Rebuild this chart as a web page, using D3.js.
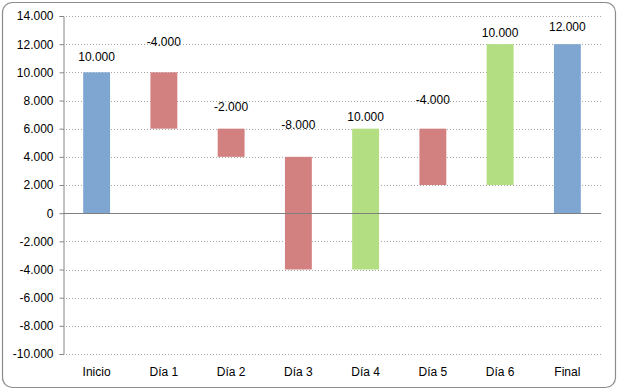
<!DOCTYPE html>
<html><head><meta charset="utf-8">
<script src="https://cdn.jsdelivr.net/npm/d3@7"></script>
<style>body{margin:0;background:#fff;}svg{display:block;}</style>
</head><body>
<svg id="c" width="619" height="391"></svg>
<script>
const categories = ["Inicio","Día 1","Día 2","Día 3","Día 4","Día 5","Día 6","Final"];
const changes = [10000,-4000,-2000,-8000,10000,-4000,10000,12000];
const kinds = ["total","delta","delta","delta","delta","delta","delta","total"];
const yTicks = [-10000,-8000,-6000,-4000,-2000,0,2000,4000,6000,8000,10000,12000,14000];

// layout: label distance above bar top (px)
const labelGap = [15,30,22,32,12,29,11,17];

const colors = {total:"#7fa6d1", up:"#b3de82", down:"#d38080"};
const loc = d3.formatLocale({decimal:",", thousands:".", grouping:[3], currency:["","€"], minus:"-"});
const fmt = loc.format(",");

const svg = d3.select("#c");
const font = "'Liberation Sans', Arial, sans-serif";

// frame
svg.append("rect").attr("x",2.5).attr("y",2.5).attr("width",613).attr("height",385)
  .attr("rx",10).attr("fill","#fff").attr("stroke","#8c8c8c").attr("stroke-width",1.2);

const pL=63, pR=601, pT=16, pB=354;
const x = d3.scaleBand().domain(categories).range([pL,pR]).paddingInner(0.6).paddingOuter(0.3);
const y = d3.scaleLinear().domain([-10000,14000]).range([pB,pT]);

let run = 0;
const bars = categories.map((c,i)=>{
  let y0,y1,col;
  if(kinds[i]==="total"){ y0=0; y1=changes[i]; run=changes[i]; col=colors.total; }
  else { y0=run; y1=run+changes[i]; run=y1; col=changes[i]>=0?colors.up:colors.down; }
  return {c, v:changes[i], lo:Math.min(y0,y1), hi:Math.max(y0,y1), col, i};
});

// gridlines
svg.append("g").selectAll("line").data(yTicks.filter(t=>t!==0)).join("line")
  .attr("x1",pL).attr("x2",pR).attr("y1",d=>Math.round(y(d))+0.5).attr("y2",d=>Math.round(y(d))+0.5)
  .attr("stroke","#a6a6a6").attr("stroke-dasharray","1,2").attr("stroke-width",1);

// bars
svg.append("g").selectAll("rect").data(bars).join("rect")
  .attr("x",d=>x(d.c)).attr("width",x.bandwidth())
  .attr("y",d=>y(d.hi)).attr("height",d=>y(d.lo)-y(d.hi))
  .attr("fill",d=>d.col);

// zero line
svg.append("line").attr("x1",pL).attr("x2",pR).attr("y1",Math.round(y(0))+0.5).attr("y2",Math.round(y(0))+0.5)
  .attr("stroke","#808080");

// y axis
const ya = svg.append("g").attr("transform",`translate(${pL+0.5},0)`)
  .call(d3.axisLeft(y).tickValues(yTicks).tickFormat(fmt).tickSize(4).tickPadding(6));
ya.select(".domain").attr("stroke","#868686");
ya.selectAll(".tick line").attr("stroke","#868686");
ya.selectAll("text").attr("font-family",font).attr("font-size",12).attr("fill","#000");

// x labels
svg.append("g").selectAll("text").data(categories).join("text")
  .attr("x",d=>x(d)+x.bandwidth()/2).attr("y",376).attr("text-anchor","middle")
  .attr("font-family",font).attr("font-size",12).attr("fill","#000").text(d=>d);

// value labels
svg.append("g").selectAll("text").data(bars).join("text")
  .attr("x",d=>x(d.c)+x.bandwidth()/2).attr("y",d=>y(d.hi)-labelGap[d.i]+4)
  .attr("text-anchor","middle").attr("font-family",font).attr("font-size",12).attr("fill","#000")
  .text(d=>fmt(d.v));
</script>
</body></html>
